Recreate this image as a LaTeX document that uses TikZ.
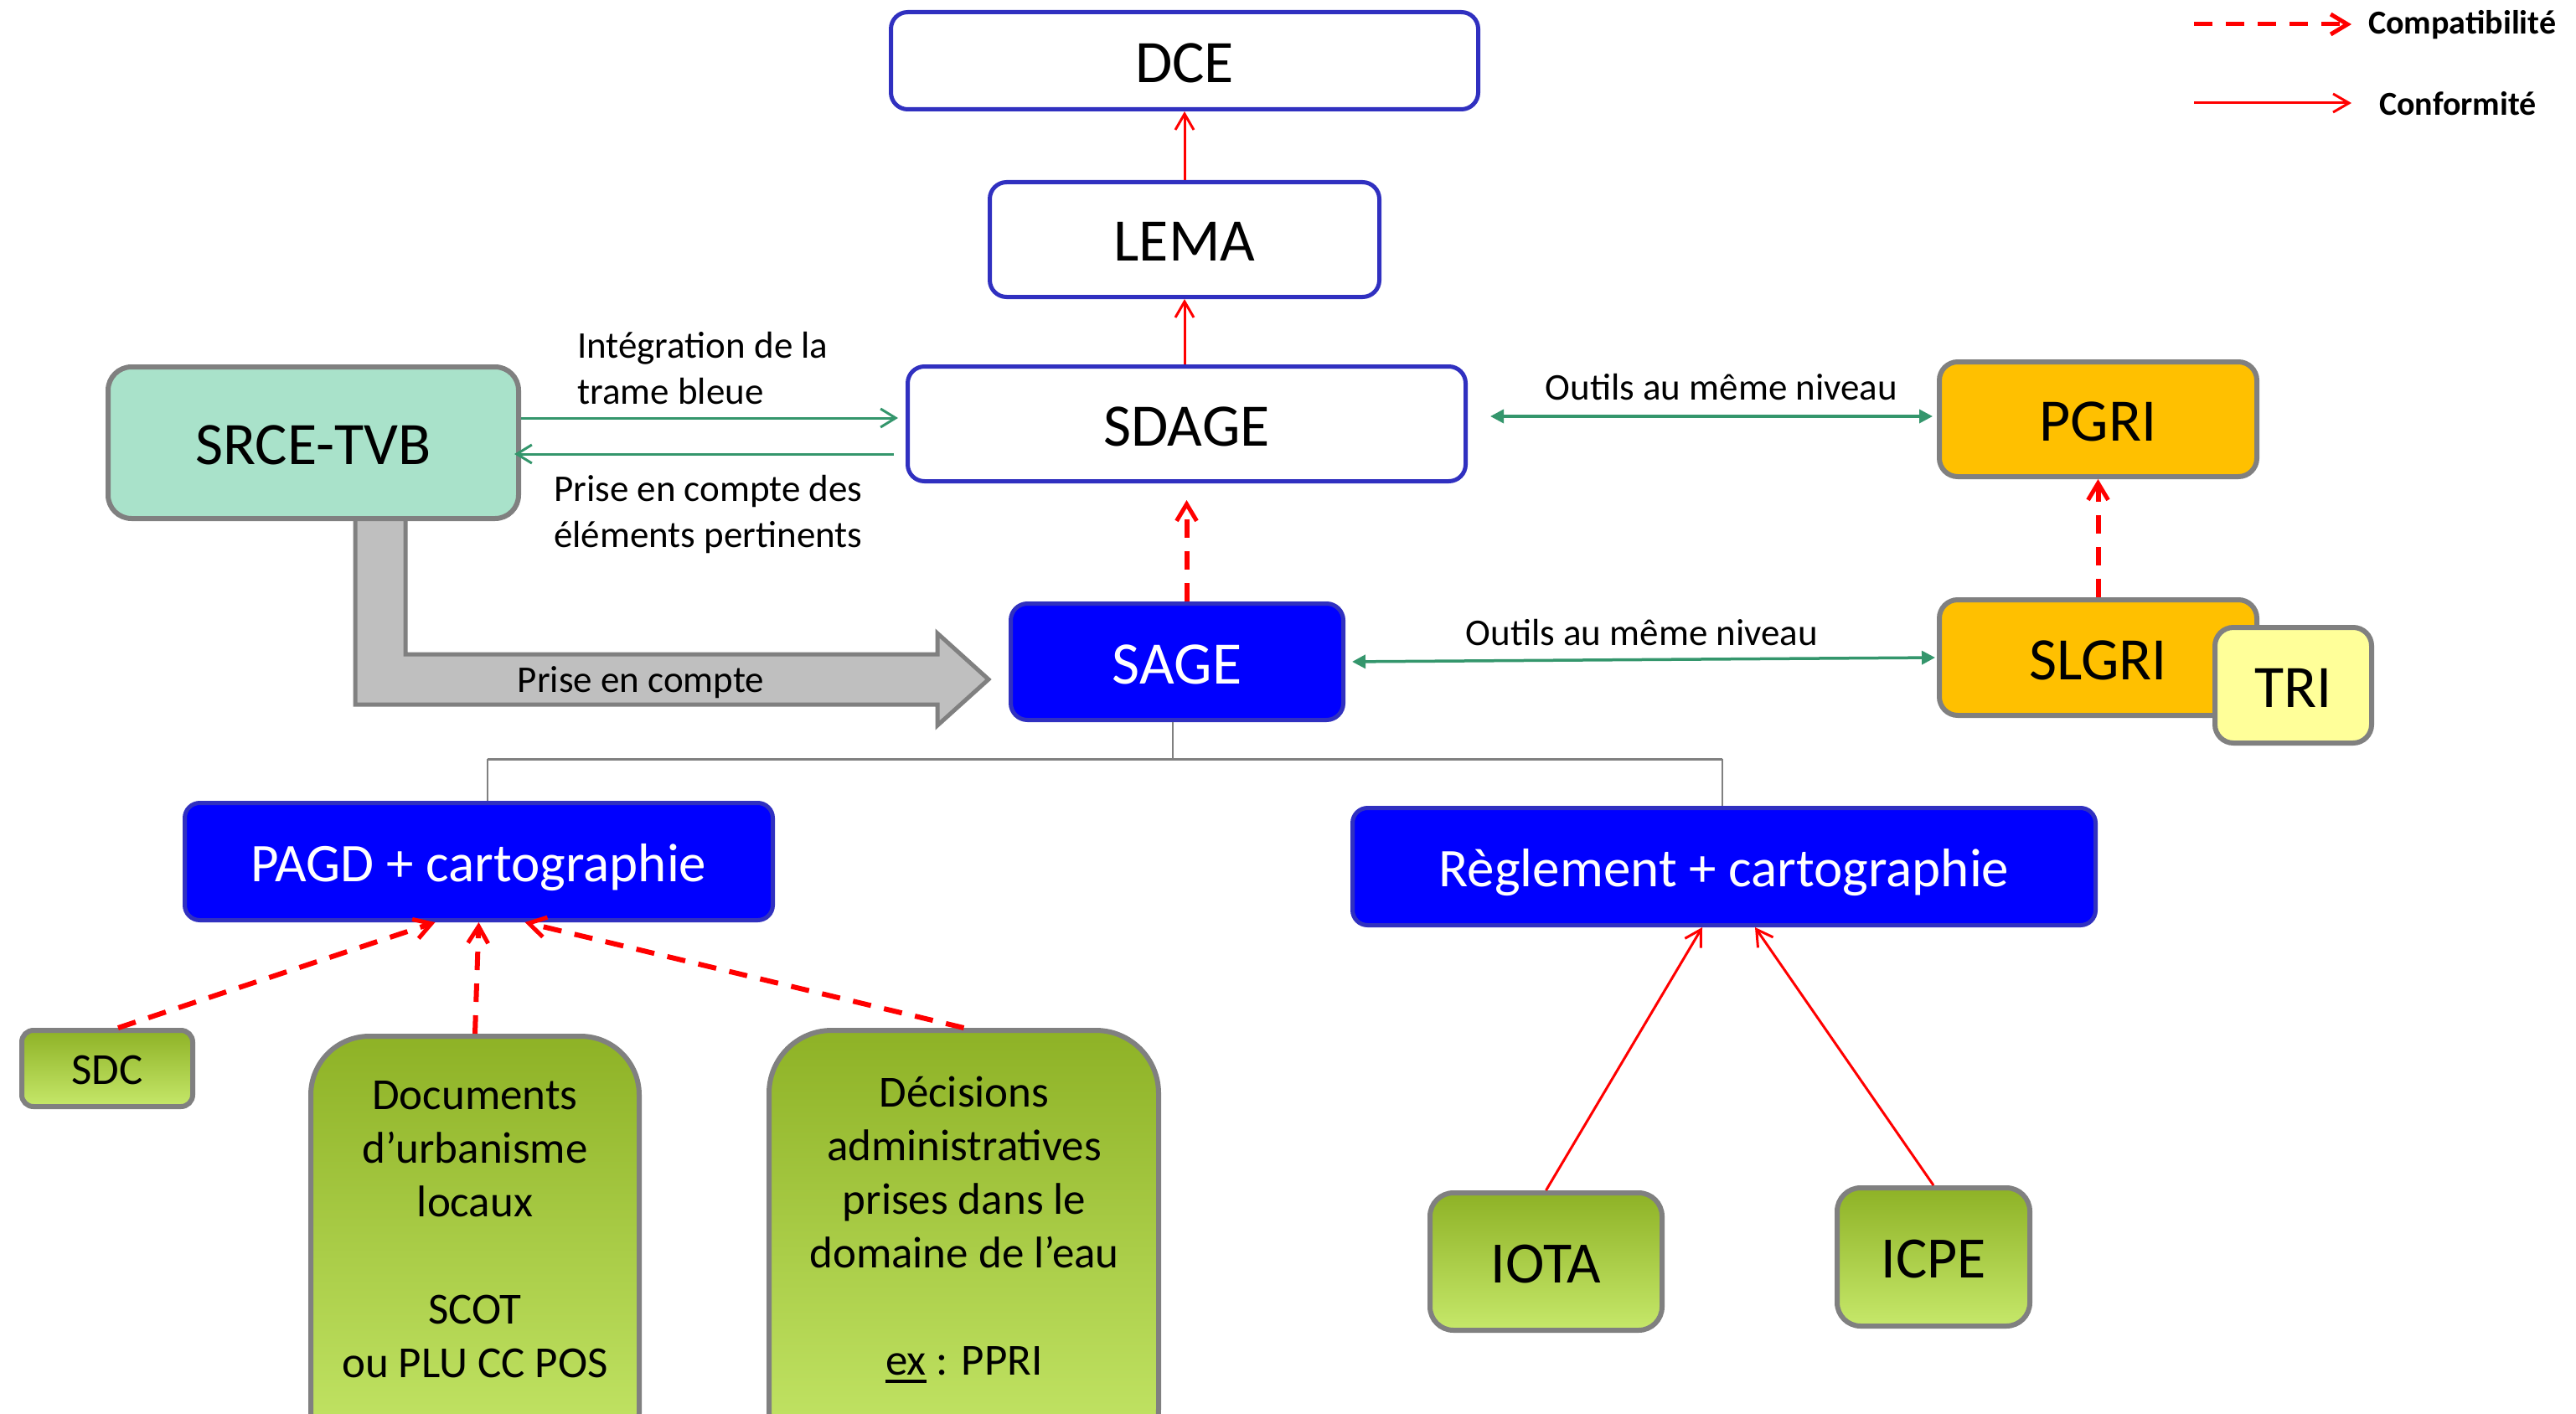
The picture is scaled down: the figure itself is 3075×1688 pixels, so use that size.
\documentclass[tikz,border=0pt]{standalone}
\usepackage{fontspec}
\setmainfont{Carlito}
\usetikzlibrary{arrows.meta,calc}

\definecolor{bblue}{RGB}{48,48,192}
\definecolor{fblue}{RGB}{0,0,255}
\definecolor{gborder}{RGB}{128,128,128}
\definecolor{mint}{RGB}{169,226,202}
\definecolor{orangey}{RGB}{255,192,0}
\definecolor{paleyel}{RGB}{255,255,153}
\definecolor{gtop}{RGB}{142,178,38}
\definecolor{gbot}{RGB}{198,232,106}
\definecolor{tgreen}{RGB}{52,150,108}
\definecolor{arrgray}{RGB}{191,191,191}
\definecolor{treegray}{RGB}{128,128,128}

\newcommand\fsbig{\fontsize{72}{86}\selectfont}
\newcommand\fsmid{\fontsize{65}{78}\selectfont}
\newcommand\fstxt{\fontsize{53}{64}\selectfont}
\newcommand\fsiota{\fontsize{70}{84}\selectfont}
\newcommand\fssmall{\fontsize{45}{55}\selectfont}
\newcommand\fsleg{\fontsize{40}{48}\selectfont\bfseries}
\newcommand\myul[1]{\setbox0\hbox{#1}\rlap{\rule[-9pt]{\wd0}{4pt}}#1}

\tikzset{
  tbig/.style={font=\fsbig, text height=52pt, text depth=0pt},
  tmid/.style={font=\fsmid, text height=47pt, text depth=0pt},
  tiota/.style={font=\fsiota, text height=50pt, text depth=0pt},
  tsdc/.style={font=\fstxt, text height=38pt, text depth=0pt},
  bbox/.style={draw=bblue, line width=5pt, rounded corners=20pt, fill=white, inner sep=0pt, tbig},
  fbox/.style={draw=bblue, line width=5pt, rounded corners=20pt, fill=fblue, text=white, inner sep=0pt},
  obox/.style={draw=gborder, line width=6pt, rounded corners=22pt, fill=orangey, inner sep=0pt, tbig},
  gbox/.style={draw=gborder, line width=6pt, top color=gtop, bottom color=gbot, inner sep=0pt},
  txt/.style={inner sep=0pt},
  conf/.style={draw=red, line width=3pt, -{Straight Barb[length=19pt,width=22pt,line width=3pt]}},
  compat/.style={draw=red, line width=6pt, dash pattern=on 22pt off 16pt, -{Straight Barb[length=20pt,width=24pt,line width=5pt]}},
  topen/.style={draw=tgreen, line width=3pt, -{Straight Barb[length=18pt,width=22pt,line width=3pt]}},
  tboth/.style={draw=tgreen, line width=3.5pt, {Triangle[length=16pt,width=16pt]}-{Triangle[length=16pt,width=16pt]}},
  tree/.style={draw=treegray, line width=2pt},
  garrow/.style={draw=gborder, line width=5pt, fill=arrgray, line join=miter}
}

\begin{document}
\begin{tikzpicture}[x=1pt,y=-1pt]
\useasboundingbox[fill=white] (0,0) rectangle (3075,1688);

% big grey arrow (shape)
\draw[garrow] (424,612) -- (484,612) -- (484,781) -- (1119,781) -- (1119,756)
  -- (1180,811) -- (1119,866) -- (1119,841) -- (424,841) -- cycle;
\node[txt, font=\fssmall] (pec) at (765,815) {Prise en compte};

% top column
\node[bbox, minimum width=701pt, minimum height=116pt] (dce) at (1414,72.5) {DCE};
\node[bbox, minimum width=465pt, minimum height=137pt] (lema) at (1414,286) {LEMA};
\node[bbox, minimum width=666pt, minimum height=137pt] (sdage) at (1416.5,506) {SDAGE};
\node[fbox, tbig, minimum width=397pt, minimum height=139pt] (sage) at (1405,790) {SAGE};

\node[draw=gborder, line width=6pt, rounded corners=28pt, fill=mint, inner sep=0pt, tbig,
      minimum width=490pt, minimum height=181pt] (srce) at (374,528.5) {SRCE-TVB};

\node[obox, minimum width=379pt, minimum height=137pt] (pgri) at (2504.5,500.5) {PGRI};
\node[obox, minimum width=379pt, minimum height=138pt] (slgri) at (2504.5,785) {SLGRI};
\node[obox, fill=paleyel, minimum width=187pt, minimum height=138pt] (tri) at (2737.5,818) {TRI};

% second level
\node[fbox, tmid, rounded corners=18pt, minimum width=702pt, minimum height=140pt] (pagd) at (571.5,1028.5) {PAGD + cartographie};
\node[fbox, tmid, rounded corners=18pt, minimum width=887pt, minimum height=140pt] (regl) at (2058,1034.5) {Règlement + cartographie};

% green boxes
\node[gbox, rounded corners=14pt, tsdc, minimum width=204pt, minimum height=91pt] (sdc) at (128,1275.5) {SDC};
\node[gbox, rounded corners=70pt, minimum width=392pt, minimum height=520pt] (docs) at (567,1497) {};
\node[txt, font=\fstxt, align=center] (docstxt) at (567,1468) {Documents\\d’urbanisme\\locaux\\[64pt]SCOT\\ou PLU CC POS};
\node[gbox, rounded corners=75pt, minimum width=465pt, minimum height=527pt] (decis) at (1150.5,1493.5) {};
\node[txt, font=\fstxt, align=center] (decistxt) at (1151,1468) {Décisions\\administratives\\prises dans le\\domaine de l’eau\\[64pt]\myul{ex} : PPRI};
\node[gbox, rounded corners=28pt, tiota, minimum width=277pt, minimum height=164pt] (iota) at (1845.5,1506) {IOTA};
\node[gbox, rounded corners=28pt, tiota, minimum width=230pt, minimum height=165pt] (icpe) at (2308,1500.5) {ICPE};

% conformity arrows
\draw[conf] (lema.north) -- (dce.south);
\draw[conf] (lema.south |- sdage.north) -- (lema.south);
\draw[conf] (iota.north) -- ($(regl.south)+(-26,0)$);
\draw[conf] (icpe.north) -- ($(regl.south)+(37,0)$);

% compatibility arrows
\draw[compat, shorten >=20pt] (sdage.south |- sage.north) -- (sdage.south);
\draw[compat] (slgri.north) -- (pgri.south);
\draw[compat] ($(sdc.north)+(13,0)$) -- ($(pagd.south)+(-52,0)$);
\draw[compat] (docs.north) -- (pagd.south);
\draw[compat] (decis.north) -- ($(pagd.south)+(55,0)$);

% green relations
\draw[topen, shorten >=9pt] (srce.east |- 0,499) -- (sdage.west |- 0,499);
\draw[topen, shorten <=14pt, shorten >=-8pt] (sdage.west |- 0,542) -- (srce.east |- 0,542);
\node[txt, font=\fssmall, align=left, anchor=west] (integ) at (689,440) {Intégration de la\\trame bleue};
\node[txt, font=\fssmall, align=left, anchor=west] (prise) at (661,614) {Prise en compte des\\éléments pertinents};

\draw[tboth, shorten <=27pt, shorten >=5pt] (sdage.east |- 0,497) -- (pgri.west |- 0,497);
\node[txt, font=\fssmall] (outils1) at (2055,462) {Outils au même niveau};
\draw[tboth, shorten <=8pt, shorten >=2pt] (sage.east |- 0,790) -- (slgri.west |- 0,785);
\node[txt, font=\fssmall] (outils2) at (1960,755) {Outils au même niveau};

% tree connector
\coordinate (tl) at (582,906);
\coordinate (tr) at (2056,906);
\coordinate (ts) at (1400,906);
\draw[tree] (ts |- sage.south) -- (ts);
\draw[tree, line width=3pt] (tl) -- (tr);
\draw[tree] (tl) -- (tl |- pagd.north);
\draw[tree] (tr) -- (tr |- regl.north);

% legend
\coordinate (lc1) at (2619,29);
\coordinate (lc2) at (2807,29);
\coordinate (lf1) at (2619,123);
\coordinate (lf2) at (2807,123);
\draw[compat, line width=5pt] (lc1) -- (lc2);
\draw[conf] (lf1) -- (lf2);
\node[txt, font=\fsleg, anchor=west] (lcomp) at (2827,30) {Compatibilité};
\node[txt, font=\fsleg, anchor=west] (lconf) at (2840,124) {Conformité};
\end{tikzpicture}
\end{document}
